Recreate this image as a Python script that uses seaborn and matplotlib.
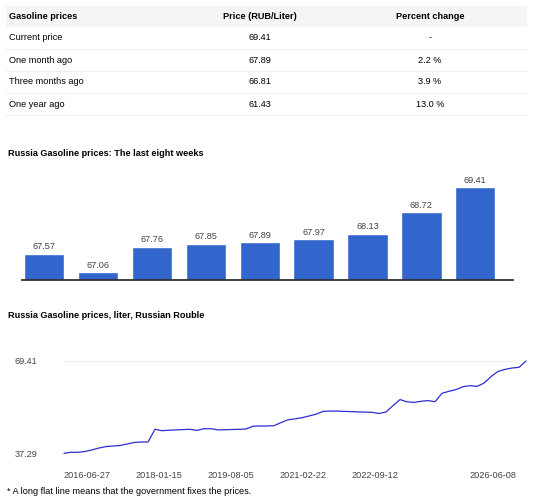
import matplotlib
matplotlib.use("Agg")
import numpy as np
import pandas as pd
import matplotlib.pyplot as plt
from matplotlib.patches import Rectangle
import seaborn as sns

# table
table_header = ["Gasoline prices", "Price (RUB/Liter)", "Percent change"]
table_rows = ["Current price", "One month ago", "Three months ago", "One year ago"]
table_prices = ["69.41", "67.89", "66.81", "61.43"]
table_changes = ["-", "2.2 %", "3.9 %", "13.0 %"]

# last eight weeks
week_values = [67.57, 67.06, 67.76, 67.85, 67.89, 67.97, 68.13, 68.72, 69.41]

# long history (evenly spaced samples)
history_values = [
    37.29, 37.64, 37.64, 37.92, 38.47, 39.13, 39.62, 39.83, 40.00, 40.53,
    41.05, 41.22, 41.22, 45.64, 45.15, 45.33, 45.43, 45.54, 45.64, 45.26,
    45.85, 45.85, 45.43, 45.50, 45.57, 45.64, 45.75, 46.72, 46.79, 46.79,
    46.90, 47.97, 48.95, 49.26, 49.68, 50.27, 50.90, 51.87, 51.98, 51.98,
    51.87, 51.80, 51.70, 51.63, 51.56, 51.14, 51.66, 53.89, 55.98, 55.21,
    55.00, 55.39, 55.63, 55.25, 58.17, 58.87, 59.46, 60.47, 60.82, 60.57,
    61.72, 63.98, 65.79, 66.49, 66.97, 67.22, 69.41,
]
history_ticks = ["2016-06-27", "2018-01-15", "2019-08-05", "2021-02-22", "2022-09-12", "2026-06-08"]
history_tick_pos = [3.29, 13.57, 23.86, 34.14, 44.43, 61.29]
y_min, y_max = 37.29, 69.41

sns.set_theme(style="white")
plt.rcParams["font.family"] = ["Liberation Sans", "DejaVu Sans"]

W, H = 534, 500
fig = plt.figure(figsize=(W / 100, H / 100), dpi=100)
fs = 6.6
txt = "#444444"

# background axes in pixel coordinates for the table and titles
bg = fig.add_axes([0, 0, 1, 1])
bg.set_xlim(0, W)
bg.set_ylim(H, 0)
bg.axis("off")

bg.add_patch(Rectangle((6, 6), 521, 21, color="#f5f5f5", lw=0))
bg.text(9, 16.7, table_header[0], fontsize=fs, fontweight="bold", va="center", color="black")
bg.text(260, 16.7, table_header[1], fontsize=fs, fontweight="bold", va="center", ha="center", color="black")
bg.text(430, 16.7, table_header[2], fontsize=fs, fontweight="bold", va="center", ha="center", color="black")
row_y = [37.7, 60.3, 82.0, 104.3]
for i, (name, price, chg) in enumerate(zip(table_rows, table_prices, table_changes)):
    y = row_y[i]
    bg.text(9, y, name, fontsize=fs, va="center", color="black")
    bg.text(260, y, price, fontsize=fs, va="center", ha="center", color="black")
    bg.text(430, y, chg, fontsize=fs, va="center", ha="center", color="black")
    bg.plot([6, 527], [y + 11, y + 11], color="#f0f0f0", lw=0.8)

bg.text(8, 154, "Russia Gasoline prices: The last eight weeks", fontsize=fs, fontweight="bold", va="center", color="black")
bg.text(8, 316, "Russia Gasoline prices, liter, Russian Rouble", fontsize=fs, fontweight="bold", va="center", color="black")
bg.text(7, 491, "* A long flat line means that the government fixes the prices.", fontsize=fs, va="center", color="black")

# bar chart
ax1 = fig.add_axes([21.6 / W, (H - 280) / H, (513 - 21.6) / W, 110 / H])
bars = pd.DataFrame({"week": range(len(week_values)), "price": week_values})
sns.barplot(data=bars, x="week", y="price", color="#3366cc", saturation=1, width=0.75, ax=ax1)
ax1.set_ylim(66.85, 69.89)
ax1.set_xlim(-0.42, 8.7)
ax1.bar_label(ax1.containers[0], fmt="%.2f", padding=2, fontsize=fs, color=txt)
ax1.set_xticks([])
ax1.set_yticks([])
ax1.set_xlabel("")
ax1.set_ylabel("")
for s in ["top", "left", "right"]:
    ax1.spines[s].set_visible(False)
ax1.spines["bottom"].set_color("#333333")
ax1.spines["bottom"].set_linewidth(1.3)
ax1.patch.set_alpha(0)

# history line chart
ax2 = fig.add_axes([64 / W, (H - 453.3) / H, (513 - 64) / W, 92.3 / H])
hist = pd.DataFrame({"step": range(len(history_values)), "price": history_values})
sns.lineplot(data=hist, x="step", y="price", color="#2d2dd2", lw=0.9, ax=ax2)
ax2.lines[0].set_clip_on(False)
ax2.set_xlim(0, 64.14)
ax2.set_ylim(y_min, y_max)
ax2.set_yticks([y_min, y_max])
ax2.set_yticklabels([f"{y_min:.2f}", f"{y_max:.2f}"])
ax2.set_xticks(history_tick_pos)
ax2.set_xticklabels(history_ticks)
ax2.tick_params(axis="both", length=0, labelsize=fs, labelcolor=txt)
ax2.tick_params(axis="y", pad=19)
ax2.tick_params(axis="x", pad=13)
ax2.set_xlabel("")
ax2.set_ylabel("")
ax2.grid(axis="y", color="#ebebeb", lw=0.9)
ax2.grid(axis="x", visible=False)
for s in ax2.spines.values():
    s.set_visible(False)
ax2.patch.set_alpha(0)

fig.savefig("out.png", dpi=100)
